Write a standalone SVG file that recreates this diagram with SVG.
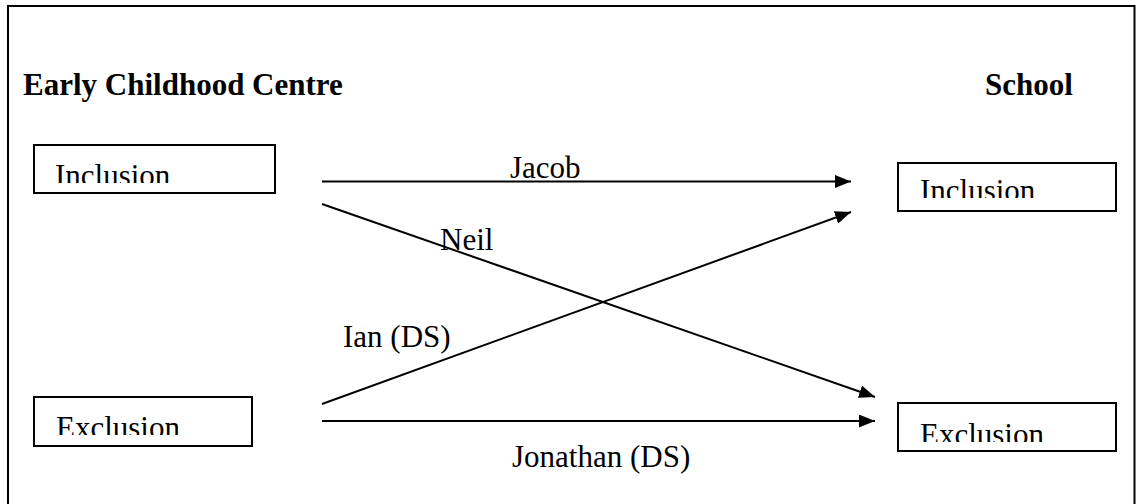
<svg xmlns="http://www.w3.org/2000/svg" width="1136" height="504" viewBox="0 0 1136 504">
<style>
text{font-family:"Liberation Serif","Times New Roman",serif;font-size:31px;fill:#000}
.h{font-weight:bold}
.box{fill:#fff;stroke:#000;stroke-width:2}
.c{stroke:#000;stroke-width:2;fill:none;marker-end:url(#ah)}
</style>
<defs>
<marker id="ah" markerWidth="16" markerHeight="13" refX="16" refY="6.5" orient="auto" markerUnits="userSpaceOnUse">
<path d="M0,0 L16,6.5 L0,13 Z" fill="#000"/>
</marker>
<clipPath id="c1"><rect x="35" y="146" width="239" height="37"/></clipPath>
<clipPath id="c2"><rect x="899" y="164" width="216" height="34"/></clipPath>
<clipPath id="c3"><rect x="35" y="398" width="216" height="37"/></clipPath>
<clipPath id="c4"><rect x="899" y="404" width="216" height="38"/></clipPath>
</defs>
<rect x="8" y="6" width="1126.5" height="520" fill="none" stroke="#000" stroke-width="2"/>
<text class="h" x="23" y="95">Early Childhood Centre</text>
<text class="h" x="985" y="95">School</text>
<g id="ecc-inclusion">
<rect class="box" x="34" y="145" width="241" height="48"/>
<text x="55" y="186" clip-path="url(#c1)">Inclusion</text>
</g>
<g id="school-inclusion">
<rect class="box" x="898" y="163" width="218" height="48"/>
<text x="920" y="201" clip-path="url(#c2)">Inclusion</text>
</g>
<g id="ecc-exclusion">
<rect class="box" x="34" y="397" width="218" height="49"/>
<text x="56" y="438" clip-path="url(#c3)">Exclusion</text>
</g>
<g id="school-exclusion">
<rect class="box" x="898" y="403" width="218" height="48"/>
<text x="920" y="445" clip-path="url(#c4)">Exclusion</text>
</g>
<g id="connectors">
<line class="c" x1="322" y1="181.5" x2="851" y2="181.5"/>
<line class="c" x1="322" y1="204" x2="875" y2="397"/>
<line class="c" x1="322" y1="404" x2="851" y2="212"/>
<line class="c" x1="322" y1="421" x2="875" y2="421"/>
<text x="510" y="178">Jacob</text>
<text x="440" y="250">Neil</text>
<text x="343" y="347">Ian (DS)</text>
<text x="512" y="467">Jonathan (DS)</text>
</g>
</svg>
